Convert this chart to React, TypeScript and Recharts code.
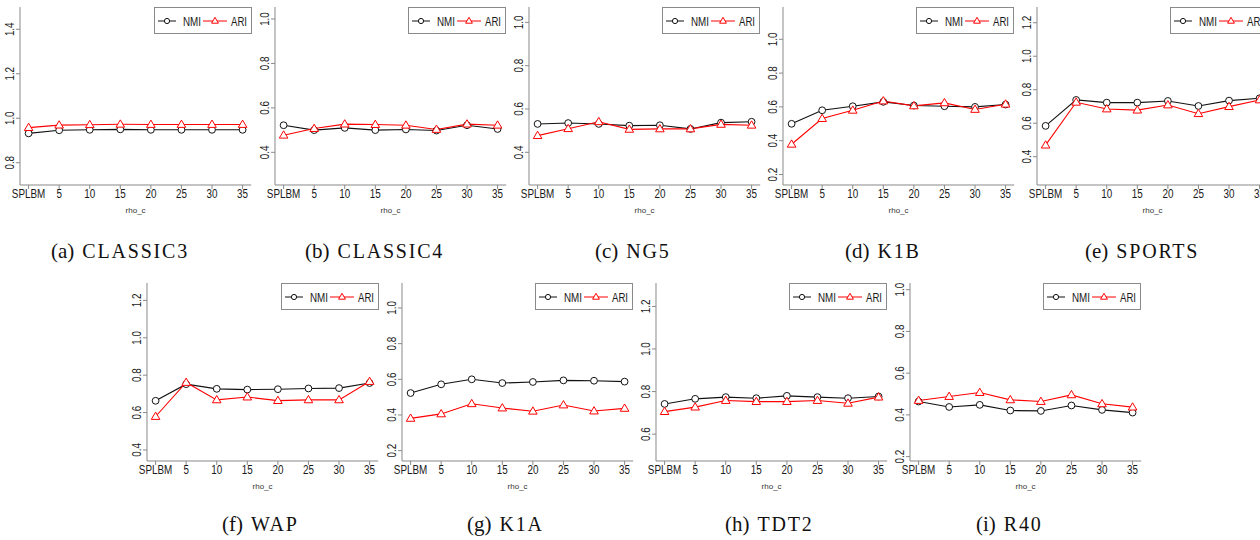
import React from 'react';
import { LineChart, Line, XAxis, YAxis } from 'recharts';

const categories = ['SPLBM', '5', '10', '15', '20', '25', '30', '35'];

const classic3Nmi = [0.932, 0.946, 0.948, 0.95, 0.948, 0.948, 0.948, 0.948];
const classic3Ari = [0.958, 0.969, 0.971, 0.973, 0.972, 0.972, 0.972, 0.972];
const classic4Nmi = [0.522, 0.5, 0.51, 0.5, 0.503, 0.498, 0.522, 0.505];
const classic4Ari = [0.477, 0.507, 0.527, 0.525, 0.522, 0.503, 0.527, 0.522];
const ng5Nmi = [0.531, 0.535, 0.531, 0.523, 0.525, 0.508, 0.537, 0.541];
const ng5Ari = [0.477, 0.509, 0.541, 0.506, 0.508, 0.508, 0.529, 0.525];
const k1bNmi = [0.5, 0.58, 0.604, 0.63, 0.608, 0.604, 0.6, 0.614];
const k1bAri = [0.379, 0.531, 0.58, 0.635, 0.606, 0.624, 0.585, 0.616];
const sportsNmi = [0.584, 0.739, 0.723, 0.723, 0.733, 0.703, 0.735, 0.749];
const sportsAri = [0.469, 0.725, 0.685, 0.678, 0.709, 0.657, 0.699, 0.739];
const wapNmi = [0.663, 0.752, 0.727, 0.723, 0.725, 0.729, 0.731, 0.758];
const wapAri = [0.579, 0.761, 0.668, 0.683, 0.664, 0.668, 0.668, 0.766];
const k1aNmi = [0.523, 0.572, 0.6, 0.579, 0.585, 0.594, 0.592, 0.587];
const k1aAri = [0.381, 0.406, 0.463, 0.439, 0.421, 0.456, 0.422, 0.437];
const tdt2Nmi = [0.742, 0.766, 0.774, 0.769, 0.78, 0.774, 0.769, 0.777];
const tdt2Ari = [0.706, 0.727, 0.758, 0.753, 0.753, 0.758, 0.745, 0.774];
const r40Nmi = [0.464, 0.438, 0.448, 0.421, 0.419, 0.445, 0.424, 0.411];
const r40Ari = [0.469, 0.488, 0.507, 0.472, 0.464, 0.496, 0.453, 0.437];

const ticks08to14 = [0.8, 1.0, 1.2, 1.4];
const ticks04to10 = [0.4, 0.6, 0.8, 1.0];
const ticks02to10 = [0.2, 0.4, 0.6, 0.8, 1.0];
const ticks04to12 = [0.4, 0.6, 0.8, 1.0, 1.2];
const ticks06to12 = [0.6, 0.8, 1.0, 1.2];

// panel layout: x/y = top-left of the plot frame in page pixels
const panels = [
  { tag: '(a)', name: 'CLASSIC3', nmi: classic3Nmi, ari: classic3Ari, ticks: ticks08to14, domain: [0.7, 1.5], x: 20.4, y: 7, capX: 51, capY: 258 },
  { tag: '(b)', name: 'CLASSIC4', nmi: classic4Nmi, ari: classic4Ari, ticks: ticks04to10, domain: [0.253, 1.054], x: 274.8, y: 7, capX: 305, capY: 258 },
  { tag: '(c)', name: 'NG5', nmi: ng5Nmi, ari: ng5Ari, ticks: ticks04to10, domain: [0.249, 1.071], x: 529.2, y: 7, capX: 595, capY: 258 },
  { tag: '(d)', name: 'K1B', nmi: k1bNmi, ari: k1bAri, ticks: ticks02to10, domain: [0.138, 1.191], x: 782.8, y: 7, capX: 845, capY: 258 },
  { tag: '(e)', name: 'SPORTS', nmi: sportsNmi, ari: sportsAri, ticks: ticks04to12, domain: [0.231, 1.294], x: 1036.7, y: 7, capX: 1085, capY: 258 },
  { tag: '(f)', name: 'WAP', nmi: wapNmi, ari: wapAri, ticks: ticks04to12, domain: [0.341, 1.293], x: 147.4, y: 283.3, capX: 222, capY: 531 },
  { tag: '(g)', name: 'K1A', nmi: k1aNmi, ari: k1aAri, ticks: ticks02to10, domain: [0.142, 1.14], x: 402.2, y: 283.3, capX: 467, capY: 531 },
  { tag: '(h)', name: 'TDT2', nmi: tdt2Nmi, ari: tdt2Ari, ticks: ticks06to12, domain: [0.474, 1.31], x: 655.7, y: 283.3, capX: 725, capY: 531 },
  { tag: '(i)', name: 'R40', nmi: r40Nmi, ari: r40Ari, ticks: ticks02to10, domain: [0.179, 1.032], x: 909.8, y: 283.3, capX: 976, capY: 531 },
];

const BOX_W = 231.2;
const BOX_H = 178;
const Y_W = 22;
const M_T = 2;
const M_R = 2;
const X_H = 22;
const M_B = 14;
const FRAME = '#8a8a8a';
const TICK_FONT = '"Liberation Sans", Arial, sans-serif';
const TICK_SIZE = 13;
const NARROW = 0.76; // R's pdf text is condensed compared to Liberation Sans

const YTick = (props: any) => {
  const { x, y, payload } = props;
  return (
    <text transform={`translate(${x} ${y}) rotate(-90) scale(${NARROW} 1)`} textAnchor="middle"
      fontSize={TICK_SIZE} fill="#1a1a1a" fontFamily={TICK_FONT}>
      {Number(payload.value).toFixed(1)}
    </text>
  );
};

const XTick = (props: any) => {
  const { x, y, payload } = props;
  return (
    <text transform={`translate(${x} ${y}) scale(${NARROW} 1)`} y={9.5} textAnchor="middle"
      fontSize={TICK_SIZE} fill="#1a1a1a" fontFamily={TICK_FONT}>
      {payload.value}
    </text>
  );
};

const Circle = (props: any) => {
  const { cx, cy } = props;
  if (cx == null || cy == null) return null;
  return <circle cx={cx} cy={cy} r={3.4} fill="#fff" stroke="#111" strokeWidth={1} />;
};

const Triangle = (props: any) => {
  const { cx, cy } = props;
  if (cx == null || cy == null) return null;
  return (
    <path d={`M${cx},${cy - 4.4}L${cx + 4.3},${cy + 2.9}L${cx - 4.3},${cy + 2.9}Z`}
      fill="#fff" stroke="#ff0000" strokeWidth={1} />
  );
};

const LegendBox = () => (
  <svg width={98} height={27} style={{ display: 'block' }}>
    <rect x={0.5} y={0.5} width={97} height={26} fill="#fff" stroke={FRAME} />
    <line x1={4} y1={14} x2={22} y2={14} stroke="#111" strokeWidth={1} />
    <circle cx={13} cy={14} r={2.6} fill="#fff" stroke="#111" />
    <text x={29} y={18.8} fontSize={TICK_SIZE} fill="#1a1a1a" fontFamily={TICK_FONT}
      textLength={18} lengthAdjust="spacingAndGlyphs">NMI</text>
    <line x1={49} y1={14} x2={73} y2={14} stroke="#ff0000" strokeWidth={1} />
    <path d="M61,10.3L64.4,16.2L57.6,16.2Z" fill="#fff" stroke="#ff0000" />
    <text x={77} y={18.8} fontSize={TICK_SIZE} fill="#1a1a1a" fontFamily={TICK_FONT}
      textLength={16} lengthAdjust="spacingAndGlyphs">ARI</text>
  </svg>
);

const Panel = ({ p }: { p: any }) => {
  const data = categories.map((c, i) => ({ cat: c, nmi: p.nmi[i], ari: p.ari[i] }));
  const w = BOX_W + Y_W + M_R;
  const h = BOX_H + M_T + X_H + M_B;
  return (
    <>
      <div style={{ position: 'absolute', left: p.x - Y_W, top: p.y - M_T }}>
        <LineChart width={w} height={h} data={data}
          margin={{ top: M_T, right: M_R, left: 0, bottom: M_B }}>
          <XAxis dataKey="cat" scale="point" padding={{ left: 8.6, right: 8.6 }}
            height={X_H} interval={0} tick={<XTick />} tickSize={4} tickMargin={0}
            tickLine={{ stroke: FRAME }} axisLine={{ stroke: FRAME }}
            label={{ value: 'rho_c', position: 'bottom', offset: 0, fontSize: 8, fill: '#333', fontFamily: TICK_FONT }} />
          <XAxis xAxisId="top" dataKey="cat" orientation="top" height={0} tick={false}
            tickLine={false} axisLine={{ stroke: FRAME }} />
          <YAxis type="number" domain={p.domain} ticks={p.ticks} allowDataOverflow
            width={Y_W} tick={<YTick />} tickSize={4} tickMargin={2} interval={0}
            tickLine={{ stroke: FRAME }} axisLine={{ stroke: FRAME }} />
          <YAxis yAxisId="right" orientation="right" type="number" domain={p.domain}
            width={0} tick={false} tickLine={false} axisLine={{ stroke: FRAME }} />
          <Line dataKey="nmi" stroke="#111" strokeWidth={1.1} dot={<Circle />}
            activeDot={false} isAnimationActive={false} />
          <Line dataKey="ari" stroke="#ff0000" strokeWidth={1.1} dot={<Triangle />}
            activeDot={false} isAnimationActive={false} />
        </LineChart>
      </div>
      <div style={{ position: 'absolute', left: p.x + BOX_W - 98, top: p.y }}>
        <LegendBox />
      </div>
    </>
  );
};

export default function App() {
  return (
    <div style={{ position: 'absolute', left: 0, top: 0, width: 1260, height: 540, overflow: 'hidden', background: '#fff' }}>
      {panels.map((p) => <Panel key={p.tag} p={p} />)}
      <svg width={1260} height={540} style={{ position: 'absolute', left: 0, top: 0, pointerEvents: 'none' }}>
        {panels.map((p) => (
          <text key={p.tag} x={p.capX} y={p.capY} fontFamily='"Liberation Serif", serif' fill="#111">
            <tspan fontSize={21}>{p.tag}</tspan>
            <tspan dx={8} fontSize={20} letterSpacing={1.8}>{p.name}</tspan>
          </text>
        ))}
      </svg>
    </div>
  );
}
